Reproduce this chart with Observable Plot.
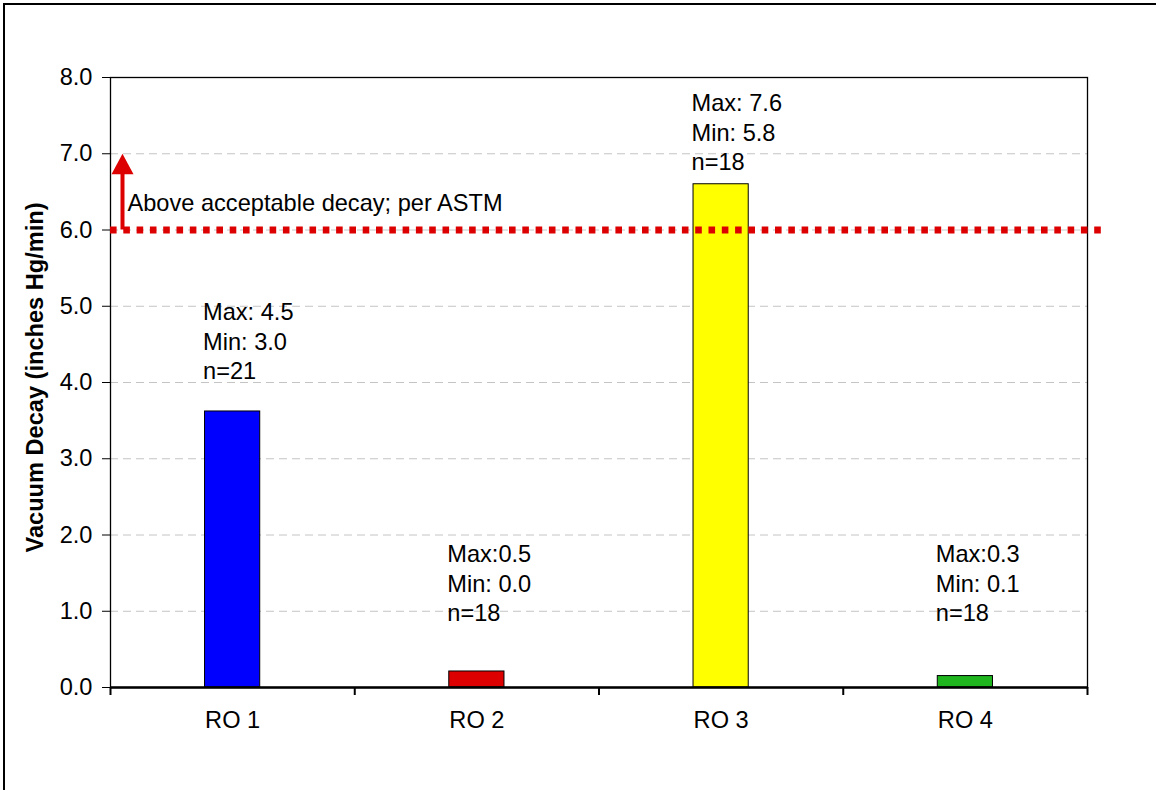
<!DOCTYPE html>
<html><head><meta charset="utf-8">
<script src="https://cdn.jsdelivr.net/npm/d3@7"></script>
<script src="https://cdn.jsdelivr.net/npm/@observablehq/plot@0.6"></script>
<style>
body{margin:0;background:#fff;overflow:hidden;}
#wrap{position:relative;width:1156px;height:790px;overflow:hidden;background:#fff;}
#border{position:absolute;left:3px;top:3px;width:2000px;height:2000px;border-left:2.5px solid #000;border-top:2.5px solid #000;}
#chart{position:absolute;left:0;top:0;}
</style></head><body>
<div id="wrap"><div id="border"></div><div id="chart"></div></div>
<script>
const categories = ["RO 1", "RO 2", "RO 3", "RO 4"];
const decay = [3.62, 0.21, 6.60, 0.15];
const barColors = ["#0000ff", "#dd0000", "#ffff00", "#1fb51f"];
const maxLabels = ["Max: 4.5", "Max:0.5", "Max: 7.6", "Max:0.3"];
const minLabels = ["Min: 3.0", "Min: 0.0", "Min: 5.8", "Min: 0.1"];
const nLabels = ["n=21", "n=18", "n=18", "n=18"];
const yTicks = [0, 1, 2, 3, 4, 5, 6, 7, 8];
const threshold = 6.0;
const thresholdLabel = "Above acceptable decay; per ASTM";
const yLabel = "Vacuum Decay (inches Hg/min)";
// annotation block placement (top of first line, in y units)
const noteTop = [5.09, 1.92, 7.83, 1.92];

const halfW = 0.113;
const rows = categories.map((c, i) => ({
  i, cat: c, value: decay[i], color: barColors[i],
  note: maxLabels[i] + "\n" + minLabels[i] + "\n" + nLabels[i],
  top: noteTop[i]
}));
const red = "#dd0000";
const font = "'Liberation Sans', Arial, sans-serif";
const fs = 23.6;

const arrowHead = {
  draw(ctx) {
    ctx.moveTo(0, 0);
    ctx.lineTo(11, 20.6);
    ctx.lineTo(-11, 20.6);
    ctx.closePath();
  }
};

const chart = Plot.plot({
  width: 1156,
  height: 790,
  marginLeft: 110,
  marginRight: 69,
  marginTop: 77,
  marginBottom: 103,
  style: {fontFamily: font, fontSize: fs + "px", background: "none", color: "#000"},
  x: {domain: [0, 4]},
  y: {domain: [0, 8]},
  color: {type: "identity"},
  marks: [
    Plot.ruleY(yTicks.filter(t => t > 0 && t < 8), {stroke: "#c4c4c4", strokeWidth: 1, strokeDasharray: "8,5"}),
    Plot.rectY(rows, {x1: d => d.i + 0.5 - halfW, x2: d => d.i + 0.5 + halfW, y1: 0, y2: "value", fill: "color", stroke: "#000", strokeWidth: 1}),
    Plot.frame({stroke: "#000", strokeWidth: 1.3}),
    Plot.ruleY([0], {stroke: "#000", strokeWidth: 2.5}),
    Plot.axisY({ticks: yTicks, tickFormat: d3.format(".1f"), tickSize: 8, tickPadding: 10, stroke: "#000", fontSize: fs, label: null}),
    Plot.axisX({ticks: [0, 1, 2, 3, 4], tickFormat: () => "", tickSize: 8, strokeWidth: 2, stroke: "#000", label: null}),
    Plot.axisX({ticks: categories.map((c, i) => i + 0.5), tickFormat: d => categories[Math.floor(d)], tickSize: 0, tickPadding: 24, fontSize: fs, label: null}),
    Plot.ruleY([threshold], {stroke: red, strokeWidth: 6.8, strokeDasharray: "6.6,6.7", insetRight: -14}),
    Plot.ruleX([0], {y1: threshold + 1, y2: threshold, dx: 12, stroke: red, strokeWidth: 4, insetTop: 10}),
    Plot.dot([threshold + 1], {x: 0, y: d => d, dx: 12, symbol: arrowHead, fill: red, stroke: "none", r: 10}),
    Plot.text([thresholdLabel], {x: 0, y: threshold + 0.47, dx: 17, text: d => d, textAnchor: "start", lineAnchor: "top", fontSize: fs, fill: "#000"}),
    Plot.text(rows, {x: d => d.i + 0.5 - halfW, y: "top", dx: -2, text: "note", textAnchor: "start", lineAnchor: "top", lineHeight: 1.25, fontSize: fs, fill: "#000"}),
    Plot.text([yLabel], {frameAnchor: "left", dx: -75, dy: -5, rotate: -90, textAnchor: "middle", text: d => d, fontWeight: "bold", fontSize: fs, fill: "#000"})
  ]
});
document.getElementById("chart").appendChild(chart);
</script>
</body></html>
